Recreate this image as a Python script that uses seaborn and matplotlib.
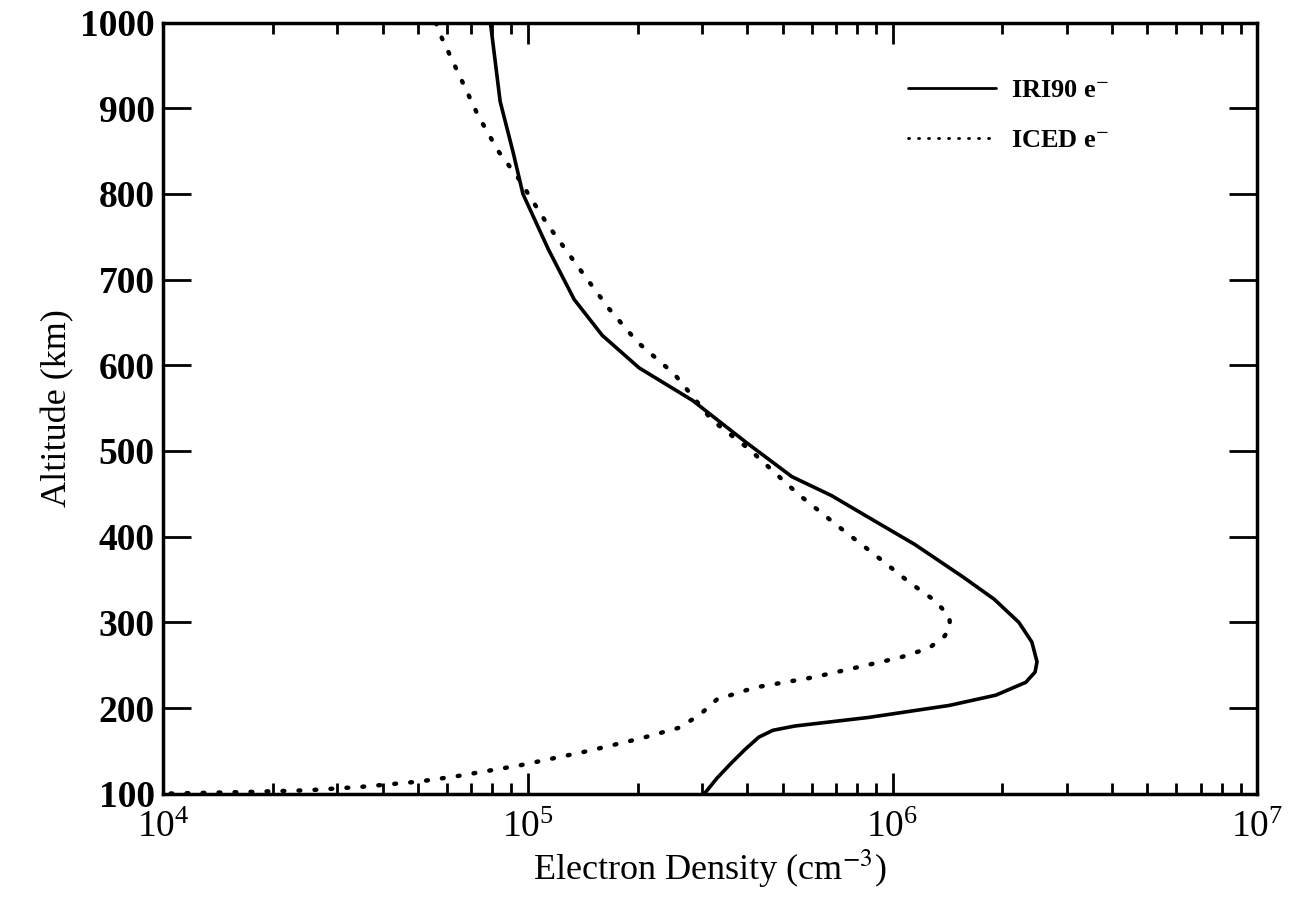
import numpy as np
import pandas as pd
import matplotlib
matplotlib.use("Agg")
import matplotlib.pyplot as plt
import seaborn as sns
from matplotlib.ticker import LogLocator, NullFormatter, FixedLocator

# IRI90 electron density profile (solid)
iri_ne = [7.9e4, 8.4e4, 9.1e4, 9.7e4, 1.14e5, 1.34e5, 1.6e5, 2.02e5, 2.83e5, 3.97e5,
          5.3e5, 6.8e5, 8.4e5, 1.15e6, 1.56e6, 1.9e6, 2.22e6, 2.41e6, 2.49e6, 2.46e6,
          2.32e6, 1.92e6, 1.43e6, 8.6e5, 5.4e5, 4.7e5, 4.3e5, 3.95e5, 3.6e5, 3.3e5,
          3.05e5]
iri_alt = [1000, 908, 850, 800, 735, 677, 635, 597, 559, 510,
           470, 448, 425, 391, 353, 327, 300, 277, 254, 242,
           230, 215, 203, 189, 179, 174, 166, 152, 135, 118,
           100]

# ICED electron density profile (dotted)
iced_ne = [5.6e4, 5.8e4, 6.5e4, 7.3e4, 8.3e4, 9.4e4, 1.13e5, 1.39e5, 1.67e5, 2.0e5,
           2.52e5, 3.2e5, 4.05e5, 5.5e5, 7.2e5, 9.0e5, 1.11e6, 1.31e6, 1.43e6, 1.44e6,
           1.39e6, 1.26e6, 1.05e6, 8.1e5, 6.1e5, 4.2e5, 3.3e5, 2.96e5, 2.6e5, 2.06e5,
           1.47e5, 9.5e4, 6.3e4, 5.0e4, 3.5e4, 2.5e4, 1.7e4, 1.0e4]
iced_alt = [1000, 983, 938, 892, 850, 819, 765, 712, 666, 627,
            590, 536, 502, 450, 410, 378, 347, 325, 307, 295,
            284, 270, 259, 248, 236, 224, 210, 192, 177, 165,
            150, 133, 120, 114, 108, 104, 102, 100]

alt_ticks = [100, 200, 300, 400, 500, 600, 700, 800, 900, 1000]

sns.set_style("ticks")
plt.rcParams['font.family'] = ['Liberation Serif', 'DejaVu Serif']
plt.rcParams['mathtext.fontset'] = 'stix'
plt.rcParams['text.color'] = 'black'
plt.rcParams['axes.labelcolor'] = 'black'

fig = plt.figure(figsize=(12.98, 9.05), dpi=100)
ax = fig.add_axes([0.1256, 0.123, 0.843, 0.852])

sns.lineplot(x=iri_ne, y=iri_alt, sort=False, estimator=None, ax=ax,
             color='black', linewidth=2.6, label='IRI90 e$^{-}$')
sns.lineplot(x=iced_ne, y=iced_alt, sort=False, estimator=None, ax=ax,
             color='black', linewidth=3.2, linestyle=(0, (0.4, 3.2)),
             dash_capstyle='round', label='ICED e$^{-}$')

ax.set_xscale('log')
ax.set_xlim(1e4, 1e7)
ax.set_ylim(100, 1000)
ax.yaxis.set_major_locator(FixedLocator(alt_ticks))
ax.xaxis.set_major_locator(LogLocator(base=10, numticks=10))
ax.xaxis.set_minor_locator(LogLocator(base=10, subs=np.arange(2, 10), numticks=20))
ax.xaxis.set_minor_formatter(NullFormatter())

ax.tick_params(axis='both', which='both', direction='in', top=True, right=True,
               colors='black', width=2)
ax.tick_params(axis='y', which='major', length=20, labelsize=27, pad=6)
ax.tick_params(axis='x', which='major', length=15, labelsize=27, pad=12)
ax.tick_params(axis='x', which='minor', length=8)
for lab in ax.get_yticklabels():
    lab.set_fontweight('bold')

for sp in ax.spines.values():
    sp.set_linewidth(2.5)
    sp.set_color('black')

ax.set_xlabel('Electron Density (cm$^{-3}$)', fontsize=26, labelpad=2)
ax.set_ylabel('Altitude (km)', fontsize=26, labelpad=4)

leg = ax.legend(loc='upper right', frameon=False,
                prop={'size': 19, 'weight': 'bold'},
                handlelength=3.3, handletextpad=0.6, borderpad=0,
                borderaxespad=0, labelspacing=1.0,
                bbox_to_anchor=(0.865, 0.927))
for h in leg.get_lines():
    h.set_linewidth(2)

fig.savefig('out.png', dpi=100, facecolor='white')
